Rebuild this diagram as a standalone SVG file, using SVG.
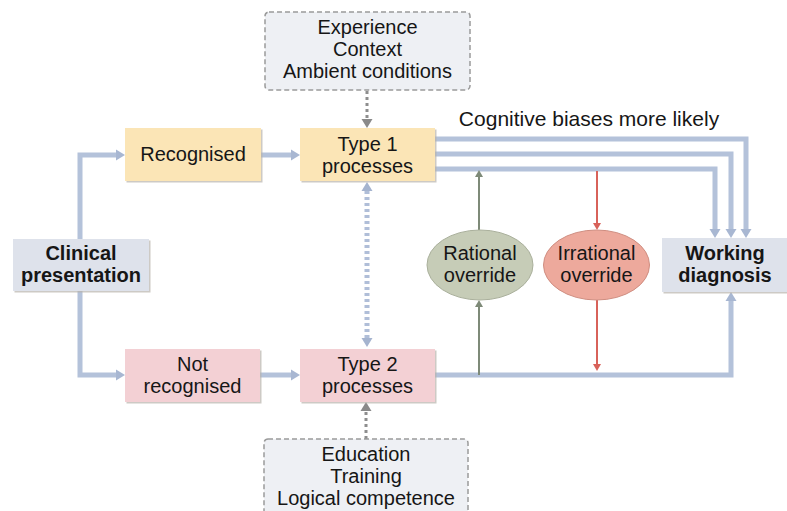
<svg xmlns="http://www.w3.org/2000/svg" width="787" height="511" viewBox="0 0 787 511">
<style>
.t{font-family:"Liberation Sans",Arial,Helvetica,sans-serif;font-size:20px;fill:#161616;text-anchor:middle}
.b{font-weight:bold}
.sh{fill:#b8b4ac;opacity:0.7}
.yel{fill:#fbe5b6}
.pnk{fill:#f3d0d4}
.gry{fill:#dee2eb}
.dash{fill:#eef0f4;stroke:#9a9a9a;stroke-width:1.5;stroke-dasharray:5 3}
.blue{fill:none;stroke:#b4c2da;stroke-width:5}
.dotg{fill:none;stroke:#8e8e8e;stroke-width:3;stroke-dasharray:3 3}
.dotb{fill:none;stroke:#b0bed8;stroke-width:5;stroke-dasharray:3 3}
.grn{fill:none;stroke:#7e8a78;stroke-width:2}
.red{fill:none;stroke:#d8625a;stroke-width:2}
</style>
<defs>
<marker id="ab" markerUnits="userSpaceOnUse" markerWidth="9" markerHeight="11" refX="0" refY="5.5" orient="auto" overflow="visible">
<path d="M0,0 L9,5.5 L0,11 z" fill="#a8b7d2"/>
</marker>
<marker id="ag" markerUnits="userSpaceOnUse" markerWidth="9" markerHeight="11" refX="0" refY="5.5" orient="auto" overflow="visible">
<path d="M0,0 L9,5.5 L0,11 z" fill="#8a8a8a"/>
</marker>
<marker id="abd" markerUnits="userSpaceOnUse" markerWidth="9" markerHeight="11" refX="0" refY="5.5" orient="auto-start-reverse" overflow="visible">
<path d="M0,0 L9,5.5 L0,11 z" fill="#a5b4cf"/>
</marker>
<marker id="agr" markerUnits="userSpaceOnUse" markerWidth="7" markerHeight="8" refX="0" refY="4" orient="auto" overflow="visible">
<path d="M0,0 L7,4 L0,8 z" fill="#7e8a78"/>
</marker>
<marker id="ard" markerUnits="userSpaceOnUse" markerWidth="7" markerHeight="8" refX="0" refY="4" orient="auto" overflow="visible">
<path d="M0,0 L7,4 L0,8 z" fill="#d8625a"/>
</marker>
</defs>

<g id="connectors">
<path class="blue" d="M80,239 V155 H116" marker-end="url(#ab)"/>
<path class="blue" d="M80,291 V375 H116" marker-end="url(#ab)"/>
<path class="blue" d="M261,155 H291" marker-end="url(#ab)"/>
<path class="blue" d="M260,375 H291" marker-end="url(#ab)"/>
<path class="blue" d="M435,139 H746 V229" marker-end="url(#ab)"/>
<path class="blue" d="M435,154 H731 V229" marker-end="url(#ab)"/>
<path class="blue" d="M435,169 H715 V229" marker-end="url(#ab)"/>
<path class="blue" d="M435,375 H731 V301" marker-end="url(#ab)"/>
<path class="grn" d="M479,375 V307" marker-end="url(#agr)"/>
<path class="grn" d="M479,230 V177" marker-end="url(#agr)"/>
<path class="red" d="M597,171 V223" marker-end="url(#ard)"/>
<path class="red" d="M597,300 V364" marker-end="url(#ard)"/>
<path class="dotg" d="M367,91 V119" marker-end="url(#ag)"/>
<path class="dotb" d="M367,191 V338" marker-start="url(#abd)" marker-end="url(#abd)"/>
<path class="dotg" d="M366,439 V411" marker-end="url(#ag)"/>
</g>

<g id="factors1">
<rect class="dash" x="265" y="12" width="205" height="78" rx="4"/>
<text class="t" x="367.5" y="34">Experience</text>
<text class="t" x="367.5" y="56">Context</text>
<text class="t" x="367.5" y="78">Ambient conditions</text>
</g>

<g id="factors2">
<rect class="dash" x="264" y="439" width="204" height="90" rx="4"/>
<text class="t" x="366" y="461">Education</text>
<text class="t" x="366" y="483">Training</text>
<text class="t" x="366" y="505">Logical competence</text>
</g>

<g id="clinical">
<rect class="sh" x="14.5" y="240.5" width="136" height="52"/>
<rect class="gry" x="13" y="239" width="136" height="52"/>
<text class="t b" x="81" y="260">Clinical</text>
<text class="t b" x="81" y="282">presentation</text>
</g>

<g id="recognised">
<rect class="sh" x="126.5" y="129.5" width="136" height="53"/>
<rect class="yel" x="125" y="128" width="136" height="53"/>
<text class="t" x="193" y="161">Recognised</text>
</g>

<g id="type1">
<rect class="sh" x="301.5" y="129.5" width="135" height="53"/>
<rect class="yel" x="300" y="128" width="135" height="53"/>
<text class="t" x="367.5" y="151">Type 1</text>
<text class="t" x="367.5" y="173">processes</text>
</g>

<g id="notrecognised">
<rect class="sh" x="126.5" y="350.5" width="135" height="53"/>
<rect class="pnk" x="125" y="349" width="135" height="53"/>
<text class="t" x="192.5" y="371">Not</text>
<text class="t" x="192.5" y="393">recognised</text>
</g>

<g id="type2">
<rect class="sh" x="301.5" y="350.5" width="135" height="53"/>
<rect class="pnk" x="300" y="349" width="135" height="53"/>
<text class="t" x="367.5" y="371">Type 2</text>
<text class="t" x="367.5" y="393">processes</text>
</g>

<g id="rational">
<ellipse cx="480" cy="265" rx="53" ry="35" fill="#c6ccb7" stroke="#aab09c" stroke-width="1"/>
<text class="t" x="480" y="260">Rational</text>
<text class="t" x="480" y="282">override</text>
</g>

<g id="irrational">
<ellipse cx="596.5" cy="265" rx="53" ry="35" fill="#eda99c" stroke="#cf8d80" stroke-width="1"/>
<text class="t" x="596.5" y="260">Irrational</text>
<text class="t" x="596.5" y="282">override</text>
</g>

<g id="working">
<rect class="sh" x="663.5" y="239.5" width="125" height="54"/>
<rect class="gry" x="662" y="238" width="125" height="54"/>
<text class="t b" x="725" y="260">Working</text>
<text class="t b" x="725" y="282">diagnosis</text>
</g>

<g id="label">
<text class="t" x="589" y="126" style="font-size:21px">Cognitive biases more likely</text>
</g>
</svg>
